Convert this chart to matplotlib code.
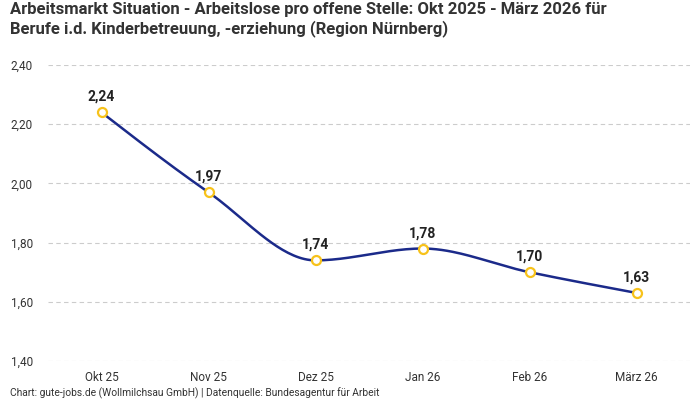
import numpy as np
import matplotlib.pyplot as plt

months = ['Okt 25', 'Nov 25', 'Dez 25', 'Jan 26', 'Feb 26', 'März 26']
values = [2.24, 1.97, 1.74, 1.78, 1.70, 1.63]
y_ticks = [1.40, 1.60, 1.80, 2.00, 2.20, 2.40]

title = ('Arbeitsmarkt Situation - Arbeitslose pro offene Stelle: Okt 2025 - März 2026 für\n'
         'Berufe i.d. Kinderbetreuung, -erziehung (Region Nürnberg)')
source = 'Chart: gute-jobs.de (Wollmilchsau GmbH) | Datenquelle: Bundesagentur für Arbeit'


def de(v):
    return f'{v:.2f}'.replace('.', ',')


def monotone_curve(x, y, steps=40):
    # monotone kubische Kurve (wie d3 curveMonotoneX)
    x = np.asarray(x, float)
    y = np.asarray(y, float)
    n = len(x)
    h = np.diff(x)
    s = np.diff(y) / h
    t = np.zeros(n)
    for i in range(1, n - 1):
        if s[i - 1] * s[i] <= 0:
            t[i] = 0
        else:
            p = (s[i - 1] * h[i] + s[i] * h[i - 1]) / (h[i - 1] + h[i])
            t[i] = (np.sign(s[i - 1]) + np.sign(s[i])) * min(abs(s[i - 1]), abs(s[i]), 0.5 * abs(p))
    t[0] = (3 * s[0] - t[1]) / 2
    t[-1] = (3 * s[-1] - t[-2]) / 2
    xs, ys = [], []
    for i in range(n - 1):
        u = np.linspace(0, 1, steps)
        h00 = 2 * u ** 3 - 3 * u ** 2 + 1
        h10 = u ** 3 - 2 * u ** 2 + u
        h01 = -2 * u ** 3 + 3 * u ** 2
        h11 = u ** 3 - u ** 2
        xs.extend(x[i] + u * h[i])
        ys.extend(h00 * y[i] + h10 * h[i] * t[i] + h01 * y[i + 1] + h11 * h[i] * t[i + 1])
    return np.array(xs), np.array(ys)


plt.rcParams['font.family'] = ['Roboto', 'DejaVu Sans']

fig = plt.figure(figsize=(7, 4), dpi=100)
ax = fig.add_axes([48 / 700, 1 - 361 / 400, 642 / 700, 296 / 400])

xpos = np.arange(len(months))
cx, cy = monotone_curve(xpos, values)
ax.plot(cx, cy, color='#1b2a8a', linewidth=1.8, zorder=3)
ax.scatter(xpos, values, s=42, facecolor='white', edgecolor='#f7c21b',
           linewidth=1.6, zorder=4)
for x, v in zip(xpos, values):
    ax.annotate(de(v), (x, v), xytext=(0, 6), textcoords='offset points',
                ha='center', va='bottom', fontsize=10, fontweight='bold',
                color='#222222')

ax.set_xlim(-0.5, len(months) - 0.5)
ax.set_ylim(1.40, 2.40)
ax.set_yticks(y_ticks)
ax.set_yticklabels([de(v) for v in y_ticks])
ax.set_xticks(xpos)
ax.set_xticklabels(months)
ax.tick_params(axis='both', length=0, labelsize=8.5, colors='#333333')
ax.tick_params(axis='x', pad=7)
ax.tick_params(axis='y', pad=11)
ax.grid(axis='y', color='#cccccc', linestyle=(0, (4, 3)), linewidth=0.8)
for sp in ax.spines.values():
    sp.set_visible(False)
ax.set_axisbelow(True)

fig.text(10 / 700, 1 - 2 / 400, title, ha='left', va='top', fontsize=12,
         fontweight='bold', color='#333333', linespacing=1.2)
fig.text(10 / 700, 1 - 399 / 400, source, ha='left', va='bottom', fontsize=7.4,
         color='#333333')

fig.savefig('out.png', dpi=100)
